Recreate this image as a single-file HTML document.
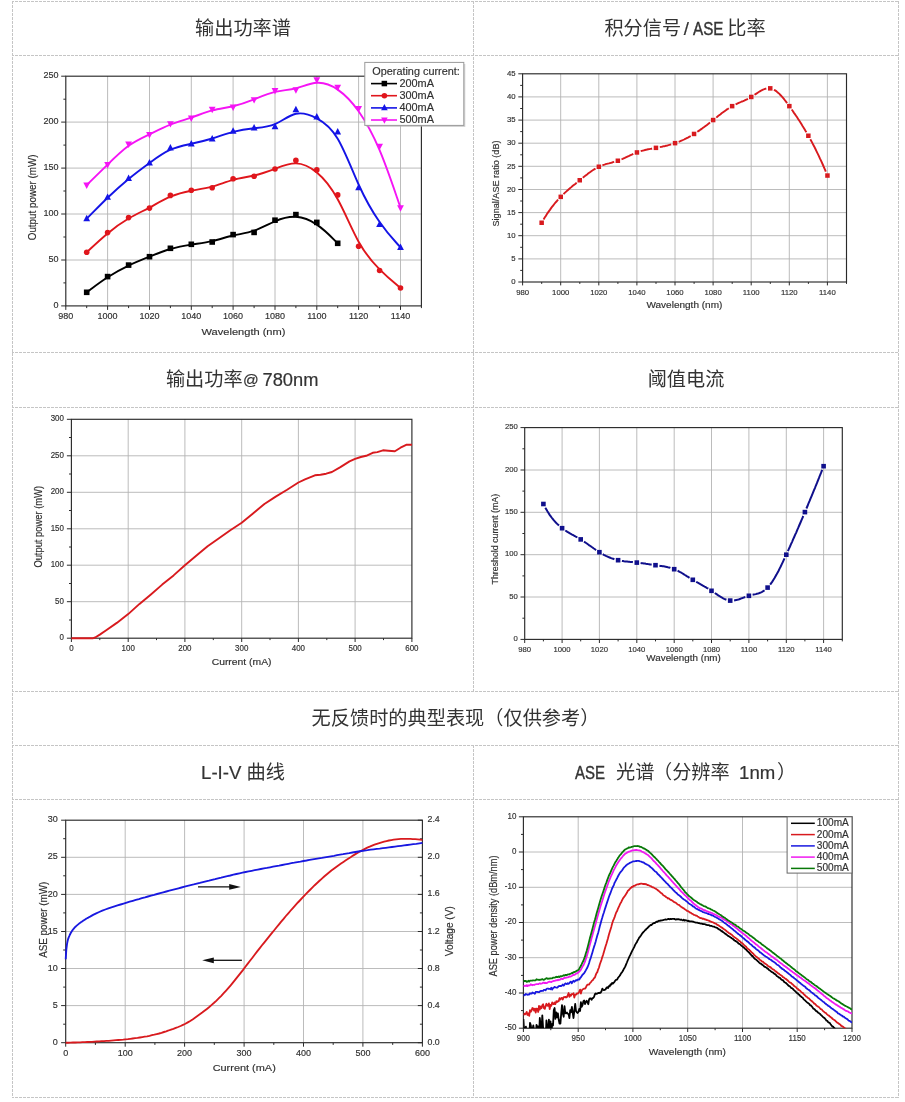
<!DOCTYPE html>
<html lang="zh-CN"><head><meta charset="utf-8"><title>charts</title>
<style>
html,body{margin:0;padding:0;background:#fff}
#pg{position:relative;width:905px;height:1102px;overflow:hidden;background:#fff;font-family:"Liberation Sans","Noto Sans CJK SC",sans-serif;color:#333}
.h{position:absolute;height:1px;left:12px;width:887px;background:linear-gradient(90deg,#c5c5c5 75%,transparent 75%) 3px 0/4px 1px repeat-x}
.v{position:absolute;width:1px;background:linear-gradient(180deg,#c5c5c5 75%,transparent 75%) 0 0/1px 4px repeat-y}
.t{position:absolute;text-align:center;font-size:19.2px;line-height:54px;height:54px;white-space:pre;color:#333}
.t i{font-style:normal;font-size:18.6px;-webkit-text-stroke:.2px #333}
.s{position:absolute;line-height:54px;height:54px;white-space:pre;color:#333;transform-origin:0 50%}
svg{position:absolute;left:0;top:0;filter:blur(.35px)}
svg text{font-family:"Liberation Sans",sans-serif;fill:#303030;stroke:#303030;stroke-width:.16px}
</style></head><body><div id="pg">
<div class="h" style="top:1px"></div>
<div class="h" style="top:55px"></div>
<div class="h" style="top:352px"></div>
<div class="h" style="top:407px"></div>
<div class="h" style="top:691px"></div>
<div class="h" style="top:745px"></div>
<div class="h" style="top:799px"></div>
<div class="h" style="top:1097px"></div>
<div class="v" style="left:12px;top:1px;height:1097px"></div>
<div class="v" style="left:898px;top:1px;height:1097px"></div>
<div class="v" style="left:473px;top:1px;height:690px"></div>
<div class="v" style="left:473px;top:745px;height:353px"></div>
<div class="t" style="left:13px;width:460px;top:2px">输出功率谱</div>
<div class="s" style="left:604.4px;top:2px;font-size:19.2px">积分信号</div>
<div class="s" style="left:683.8px;top:2px;font-size:18.6px;-webkit-text-stroke:.2px #333">/</div>
<div class="s" style="left:692.8px;top:2px;font-size:18.6px;transform:scaleX(0.817);-webkit-text-stroke:.4px #333">ASE</div>
<div class="s" style="left:727.3px;top:2px;font-size:19.2px">比率</div>
<div class="s" style="left:165.9px;top:353px;font-size:19.2px">输出功率</div>
<div class="s" style="left:243px;top:353px;font-size:15.5px;-webkit-text-stroke:.2px #333">@</div>
<div class="s" style="left:262.5px;top:353px;font-size:18.3px;-webkit-text-stroke:.2px #333">780nm</div>
<div class="t" style="left:474px;width:424px;top:353px">阈值电流</div>
<div class="t" style="left:13px;width:885px;top:692px">无反馈时的典型表现（仅供参考）</div>
<div class="t" style="left:13px;width:460px;top:746px"><i>L-I-V </i>曲线</div>
<div class="s" style="left:575.2px;top:746px;font-size:18.6px;transform:scaleX(0.806);-webkit-text-stroke:.4px #333">ASE</div>
<div class="s" style="left:616px;top:746px;font-size:19.2px">光谱</div>
<div class="s" style="left:653px;top:746px;font-size:19.2px">（分辨率</div>
<div class="s" style="left:739.1px;top:746px;font-size:18.6px;-webkit-text-stroke:.2px #333">1nm</div>
<div class="s" style="left:777px;top:746px;font-size:19.2px">）</div>
<svg width="905" height="1102" viewBox="0 0 905 1102">
<path d="M107.6 76.2V305.9M149.5 76.2V305.9M191.3 76.2V305.9M233.1 76.2V305.9M275 76.2V305.9M316.8 76.2V305.9M358.6 76.2V305.9M400.5 76.2V305.9M65.8 260H421.4M65.8 214H421.4M65.8 168.1H421.4M65.8 122.1H421.4" stroke="#b4b4b4" stroke-width="0.9" fill="none"/>
<rect x="65.8" y="76.2" width="355.6" height="229.7" fill="none" stroke="#2a2a2a" stroke-width="1.15"/>
<path d="M65.8 305.9v4M107.6 305.9v4M149.5 305.9v4M191.3 305.9v4M233.1 305.9v4M275 305.9v4M316.8 305.9v4M358.6 305.9v4M400.5 305.9v4M86.7 305.9v2.2M128.6 305.9v2.2M170.4 305.9v2.2M212.2 305.9v2.2M254.1 305.9v2.2M295.9 305.9v2.2M337.7 305.9v2.2M379.6 305.9v2.2M421.4 305.9v2.2M65.8 305.9h-4.6M65.8 260h-4.6M65.8 214h-4.6M65.8 168.1h-4.6M65.8 122.1h-4.6M65.8 76.2h-4.6M65.8 282.9h-2.4M65.8 237h-2.4M65.8 191h-2.4M65.8 145.1h-2.4M65.8 99.2h-2.4" stroke="#2a2a2a" stroke-width="1" fill="none"/>
<text transform="translate(65.8 319.1)" font-size="9.0" text-anchor="middle">980</text>
<text transform="translate(107.6 319.1)" font-size="9.0" text-anchor="middle">1000</text>
<text transform="translate(149.5 319.1)" font-size="9.0" text-anchor="middle">1020</text>
<text transform="translate(191.3 319.1)" font-size="9.0" text-anchor="middle">1040</text>
<text transform="translate(233.1 319.1)" font-size="9.0" text-anchor="middle">1060</text>
<text transform="translate(275 319.1)" font-size="9.0" text-anchor="middle">1080</text>
<text transform="translate(316.8 319.1)" font-size="9.0" text-anchor="middle">1100</text>
<text transform="translate(358.6 319.1)" font-size="9.0" text-anchor="middle">1120</text>
<text transform="translate(400.5 319.1)" font-size="9.0" text-anchor="middle">1140</text>
<text transform="translate(58.6 307.8)" font-size="9.0" text-anchor="end">0</text>
<text transform="translate(58.6 261.9)" font-size="9.0" text-anchor="end">50</text>
<text transform="translate(58.6 216)" font-size="9.0" text-anchor="end">100</text>
<text transform="translate(58.6 170)" font-size="9.0" text-anchor="end">150</text>
<text transform="translate(58.6 124.1)" font-size="9.0" text-anchor="end">200</text>
<text transform="translate(58.6 78.1)" font-size="9.0" text-anchor="end">250</text>
<text transform="translate(243.5 334.5) scale(1.119 1)" font-size="9.9" text-anchor="middle">Wavelength (nm)</text>
<text transform="translate(35.8 197.4) rotate(-90) scale(0.993 1.06)" font-size="9.9" text-anchor="middle">Output power (mW)</text>
<path d="M86.7 292.3 C86.7 292.3 86.7 292.3 90.2 289.7 C93.7 287.1 100.7 281.8 107.6 277.3 C114.6 272.8 121.6 268.9 128.6 265.6 C135.5 262.3 142.5 259.5 149.5 256.7 C156.4 253.9 163.4 251.1 170.4 249 C177.4 247 184.3 245.7 191.3 244.6 C198.3 243.5 205.3 242.7 212.2 241.1 C219.2 239.5 226.2 237.1 233.1 235.5 C240.1 233.9 247.1 233.1 254.1 230.7 C261 228.3 268 224.2 275 221.3 C281.9 218.3 288.9 216.4 295.9 216.8 C302.9 217.2 309.8 219.8 316.8 224.6 C323.8 229.4 330.8 236.3 334.2 239.8 C337.7 243.3 337.7 243.3 337.7 243.3" stroke="#000000" stroke-width="1.9" fill="none" stroke-linejoin="round"/>
<rect x="83.9" y="289.5" width="5.6" height="5.6" fill="#000000"/><rect x="104.8" y="273.8" width="5.6" height="5.6" fill="#000000"/><rect x="125.8" y="262.3" width="5.6" height="5.6" fill="#000000"/><rect x="146.7" y="253.9" width="5.6" height="5.6" fill="#000000"/><rect x="167.6" y="245.5" width="5.6" height="5.6" fill="#000000"/><rect x="188.5" y="241.5" width="5.6" height="5.6" fill="#000000"/><rect x="209.4" y="239.2" width="5.6" height="5.6" fill="#000000"/><rect x="230.3" y="231.8" width="5.6" height="5.6" fill="#000000"/><rect x="251.3" y="229.6" width="5.6" height="5.6" fill="#000000"/><rect x="272.2" y="217.4" width="5.6" height="5.6" fill="#000000"/><rect x="293.1" y="211.8" width="5.6" height="5.6" fill="#000000"/><rect x="314" y="219.6" width="5.6" height="5.6" fill="#000000"/><rect x="334.9" y="240.5" width="5.6" height="5.6" fill="#000000"/>
<path d="M86.7 252.2 C86.7 252.2 86.7 252.2 90.2 249 C93.7 245.7 100.7 239.1 107.6 233.4 C114.6 227.6 121.6 222.6 128.6 218.5 C135.5 214.4 142.5 211.3 149.5 207.6 C156.4 203.9 163.4 199.6 170.4 196.7 C177.4 193.7 184.3 192 191.3 190.7 C198.3 189.5 205.3 188.6 212.2 186.7 C219.2 184.7 226.2 181.7 233.1 179.8 C240.1 177.9 247.1 177.1 254.1 175.5 C261 173.9 268 171.4 275 168.8 C281.9 166.1 288.9 163.2 295.9 163.4 C302.9 163.5 309.8 166.7 316.8 172.5 C323.8 178.2 330.8 186.6 337.7 199.3 C344.7 212 351.7 229.1 358.6 241.7 C365.6 254.3 372.6 262.4 379.6 269.4 C386.5 276.3 393.5 282.2 397 285.1 C400.5 288 400.5 288 400.5 288" stroke="#e0161c" stroke-width="1.9" fill="none" stroke-linejoin="round"/>
<circle cx="86.7" cy="252.2" r="2.8" fill="#e0161c"/><circle cx="107.6" cy="232.6" r="2.8" fill="#e0161c"/><circle cx="128.6" cy="217.6" r="2.8" fill="#e0161c"/><circle cx="149.5" cy="208.1" r="2.8" fill="#e0161c"/><circle cx="170.4" cy="195.4" r="2.8" fill="#e0161c"/><circle cx="191.3" cy="190.3" r="2.8" fill="#e0161c"/><circle cx="212.2" cy="187.7" r="2.8" fill="#e0161c"/><circle cx="233.1" cy="178.7" r="2.8" fill="#e0161c"/><circle cx="254.1" cy="176.3" r="2.8" fill="#e0161c"/><circle cx="275" cy="169" r="2.8" fill="#e0161c"/><circle cx="295.9" cy="160.4" r="2.8" fill="#e0161c"/><circle cx="316.8" cy="169.9" r="2.8" fill="#e0161c"/><circle cx="337.7" cy="194.9" r="2.8" fill="#e0161c"/><circle cx="358.6" cy="246.2" r="2.8" fill="#e0161c"/><circle cx="379.6" cy="270.5" r="2.8" fill="#e0161c"/><circle cx="400.5" cy="288" r="2.8" fill="#e0161c"/>
<path d="M86.7 218.7 C86.7 218.7 86.7 218.7 90.2 215.1 C93.7 211.6 100.7 204.4 107.6 197.7 C114.6 191 121.6 184.7 128.6 178.9 C135.5 173.2 142.5 168 149.5 162.9 C156.4 157.9 163.4 152.9 170.4 149.7 C177.4 146.6 184.3 145.3 191.3 143.8 C198.3 142.3 205.3 140.6 212.2 138.5 C219.2 136.4 226.2 133.7 233.1 131.9 C240.1 130 247.1 128.9 254.1 128.2 C261 127.5 268 127.1 275 124.1 C281.9 121.1 288.9 115.4 295.9 113.8 C302.9 112.2 309.8 114.6 316.8 118.3 C323.8 122 330.8 126.9 337.7 138.7 C344.7 150.5 351.7 169.1 358.6 184.5 C365.6 199.9 372.6 212.1 379.6 222 C386.5 232 393.5 239.7 397 243.5 C400.5 247.4 400.5 247.4 400.5 247.4" stroke="#1414e6" stroke-width="1.9" fill="none" stroke-linejoin="round"/>
<path d="M86.7 214.8L90.1 221.3L83.3 221.3Z" fill="#1414e6"/><path d="M107.6 193.4L111 199.8L104.2 199.8Z" fill="#1414e6"/><path d="M128.6 174.5L132 180.9L125.2 180.9Z" fill="#1414e6"/><path d="M149.5 158.9L152.9 165.4L146.1 165.4Z" fill="#1414e6"/><path d="M170.4 144L173.8 150.4L167 150.4Z" fill="#1414e6"/><path d="M191.3 140.1L194.7 146.6L187.9 146.6Z" fill="#1414e6"/><path d="M212.2 135L215.6 141.5L208.8 141.5Z" fill="#1414e6"/><path d="M233.1 127.2L236.5 133.7L229.7 133.7Z" fill="#1414e6"/><path d="M254.1 123.9L257.5 130.4L250.7 130.4Z" fill="#1414e6"/><path d="M275 122.8L278.4 129.3L271.6 129.3Z" fill="#1414e6"/><path d="M295.9 105.8L299.3 112.3L292.5 112.3Z" fill="#1414e6"/><path d="M316.8 113.1L320.2 119.5L313.4 119.5Z" fill="#1414e6"/><path d="M337.7 128L341.1 134.4L334.3 134.4Z" fill="#1414e6"/><path d="M358.6 183.7L362 190.2L355.2 190.2Z" fill="#1414e6"/><path d="M379.6 220.4L383 226.9L376.2 226.9Z" fill="#1414e6"/><path d="M400.5 243.5L403.9 249.9L397.1 249.9Z" fill="#1414e6"/>
<path d="M86.7 185 C86.7 185 86.7 185 90.2 181.6 C93.7 178.2 100.7 171.4 107.6 164.6 C114.6 157.7 121.6 150.9 128.6 145.8 C135.5 140.8 142.5 137.6 149.5 134.3 C156.4 130.9 163.4 127.3 170.4 124.6 C177.4 121.8 184.3 120 191.3 117.6 C198.3 115.2 205.3 112.2 212.2 110.4 C219.2 108.5 226.2 107.8 233.1 106.2 C240.1 104.6 247.1 102.2 254.1 99.4 C261 96.6 268 93.5 275 91.9 C281.9 90.2 288.9 90 295.9 88.3 C302.9 86.5 309.8 83.2 316.8 82.8 C323.8 82.3 330.8 84.8 337.7 89.6 C344.7 94.4 351.7 101.5 358.6 111.3 C365.6 121.2 372.6 133.7 379.6 150.2 C386.5 166.7 393.5 187.3 397 197.5 C400.5 207.8 400.5 207.8 400.5 207.8" stroke="#f514f5" stroke-width="1.9" fill="none" stroke-linejoin="round"/>
<path d="M86.7 188.9L90.1 182.4L83.3 182.4Z" fill="#f514f5"/><path d="M107.6 168.5L111 162L104.2 162Z" fill="#f514f5"/><path d="M128.6 147.9L132 141.5L125.2 141.5Z" fill="#f514f5"/><path d="M149.5 138.4L152.9 131.9L146.1 131.9Z" fill="#f514f5"/><path d="M170.4 127.6L173.8 121.2L167 121.2Z" fill="#f514f5"/><path d="M191.3 122L194.7 115.5L187.9 115.5Z" fill="#f514f5"/><path d="M212.2 113.2L215.6 106.7L208.8 106.7Z" fill="#f514f5"/><path d="M233.1 111L236.5 104.5L229.7 104.5Z" fill="#f514f5"/><path d="M254.1 103.6L257.5 97.2L250.7 97.2Z" fill="#f514f5"/><path d="M275 94.4L278.4 87.9L271.6 87.9Z" fill="#f514f5"/><path d="M295.9 93.7L299.3 87.2L292.5 87.2Z" fill="#f514f5"/><path d="M316.8 83.8L320.2 77.3L313.4 77.3Z" fill="#f514f5"/><path d="M337.7 91.1L341.1 84.7L334.3 84.7Z" fill="#f514f5"/><path d="M358.6 112.5L362 106.1L355.2 106.1Z" fill="#f514f5"/><path d="M379.6 150.1L383 143.7L376.2 143.7Z" fill="#f514f5"/><path d="M400.5 211.7L403.9 205.2L397.1 205.2Z" fill="#f514f5"/>
<rect x="366.3" y="64" width="99" height="63" fill="#b0b0b0" opacity=".55"/>
<rect x="364.8" y="62.4" width="99" height="63" fill="#fff" stroke="#9a9a9a" stroke-width="1"/>
<text x="372.2" y="74.6" font-size="10.9" textLength="87.7" lengthAdjust="spacingAndGlyphs">Operating current:</text>
<path d="M371 83.6H397" stroke="#000000" stroke-width="1.6"/>
<rect x="381.6" y="80.8" width="5.5" height="5.5" fill="#000000"/>
<text x="399.4" y="86.9" font-size="10.9">200mA</text>
<path d="M371 95.7H397" stroke="#e0161c" stroke-width="1.6"/>
<circle cx="384.4" cy="95.7" r="2.8" fill="#e0161c"/>
<text x="399.4" y="99" font-size="10.9">300mA</text>
<path d="M371 107.9H397" stroke="#1414e6" stroke-width="1.6"/>
<path d="M384.4 104.1L387.7 110.3L381.1 110.3Z" fill="#1414e6"/>
<text x="399.4" y="111.2" font-size="10.9">400mA</text>
<path d="M371 120H397" stroke="#f514f5" stroke-width="1.6"/>
<path d="M384.4 123.8L387.7 117.5L381.1 117.5Z" fill="#f514f5"/>
<text x="399.4" y="123.3" font-size="10.9">500mA</text>
<path d="M560.7 73.8V282M598.8 73.8V282M636.9 73.8V282M675 73.8V282M713.1 73.8V282M751.2 73.8V282M789.3 73.8V282M827.4 73.8V282M522.6 258.9H846.5M522.6 235.7H846.5M522.6 212.6H846.5M522.6 189.5H846.5M522.6 166.3H846.5M522.6 143.2H846.5M522.6 120.1H846.5M522.6 96.9H846.5" stroke="#b4b4b4" stroke-width="0.9" fill="none"/>
<rect x="522.6" y="73.8" width="323.9" height="208.2" fill="none" stroke="#2a2a2a" stroke-width="1.15"/>
<path d="M522.6 282v3.4M560.7 282v3.4M598.8 282v3.4M636.9 282v3.4M675 282v3.4M713.1 282v3.4M751.2 282v3.4M789.3 282v3.4M827.4 282v3.4M541.7 282v1.9M579.8 282v1.9M617.9 282v1.9M656 282v1.9M694.1 282v1.9M732.2 282v1.9M770.3 282v1.9M808.4 282v1.9M846.5 282v1.9M522.6 282h-4.3M522.6 258.9h-4.3M522.6 235.7h-4.3M522.6 212.6h-4.3M522.6 189.5h-4.3M522.6 166.3h-4.3M522.6 143.2h-4.3M522.6 120.1h-4.3M522.6 96.9h-4.3M522.6 73.8h-4.3M522.6 270.4h-2.4M522.6 247.3h-2.4M522.6 224.2h-2.4M522.6 201h-2.4M522.6 177.9h-2.4M522.6 154.8h-2.4M522.6 131.6h-2.4M522.6 108.5h-2.4M522.6 85.4h-2.4" stroke="#2a2a2a" stroke-width="1" fill="none"/>
<text transform="translate(522.6 294.8) scale(0.96 1)" font-size="8.1" text-anchor="middle">980</text>
<text transform="translate(560.7 294.8) scale(0.96 1)" font-size="8.1" text-anchor="middle">1000</text>
<text transform="translate(598.8 294.8) scale(0.96 1)" font-size="8.1" text-anchor="middle">1020</text>
<text transform="translate(636.9 294.8) scale(0.96 1)" font-size="8.1" text-anchor="middle">1040</text>
<text transform="translate(675 294.8) scale(0.96 1)" font-size="8.1" text-anchor="middle">1060</text>
<text transform="translate(713.1 294.8) scale(0.96 1)" font-size="8.1" text-anchor="middle">1080</text>
<text transform="translate(751.2 294.8) scale(0.96 1)" font-size="8.1" text-anchor="middle">1100</text>
<text transform="translate(789.3 294.8) scale(0.96 1)" font-size="8.1" text-anchor="middle">1120</text>
<text transform="translate(827.4 294.8) scale(0.96 1)" font-size="8.1" text-anchor="middle">1140</text>
<text transform="translate(515.6 284.2) scale(0.96 1)" font-size="8.1" text-anchor="end">0</text>
<text transform="translate(515.6 261.1) scale(0.96 1)" font-size="8.1" text-anchor="end">5</text>
<text transform="translate(515.6 237.9) scale(0.96 1)" font-size="8.1" text-anchor="end">10</text>
<text transform="translate(515.6 214.8) scale(0.96 1)" font-size="8.1" text-anchor="end">15</text>
<text transform="translate(515.6 191.7) scale(0.96 1)" font-size="8.1" text-anchor="end">20</text>
<text transform="translate(515.6 168.5) scale(0.96 1)" font-size="8.1" text-anchor="end">25</text>
<text transform="translate(515.6 145.4) scale(0.96 1)" font-size="8.1" text-anchor="end">30</text>
<text transform="translate(515.6 122.3) scale(0.96 1)" font-size="8.1" text-anchor="end">35</text>
<text transform="translate(515.6 99.1) scale(0.96 1)" font-size="8.1" text-anchor="end">40</text>
<text transform="translate(515.6 76) scale(0.96 1)" font-size="8.1" text-anchor="end">45</text>
<text transform="translate(684.4 308.2) scale(1.153 1)" font-size="8.7" text-anchor="middle">Wavelength (nm)</text>
<text transform="translate(499.4 183.5) rotate(-90) scale(1 1.08)" font-size="9.1" text-anchor="middle">Signal/ASE ratio (dB)</text>
<path d="M543.6 219.4 L544.7 217.6 L545.8 215.9 L546.8 214.2 L547.9 212.6 L549 211.1 L550.1 209.6 L551.1 208.1 L552.2 206.7 L553.3 205.3 L554.3 204 L555.4 202.7 L556.5 201.5 L557.6 200.2 L558.1 199.6M563.5 194.1 L564.5 193.1 L565.6 192.1 L566.7 191.1 L567.7 190.2 L568.8 189.2 L569.9 188.3 L571 187.4 L572 186.5 L573.1 185.6 L574.2 184.7 L575.3 183.9 L576.3 183 L576.7 182.7M582.8 177.8 L583.8 176.9 L584.9 176.1 L586 175.2 L587.1 174.4 L588.1 173.6 L589.2 172.8 L590.3 172 L591.3 171.2 L592.4 170.5 L593.5 169.8 L594.6 169.1 L595.5 168.6M602.4 165.3 L603.5 164.9 L604.6 164.6 L605.6 164.2 L606.7 163.9 L607.8 163.6 L608.9 163.4 L609.9 163.1 L611 162.8 L612.1 162.5 L613.1 162.2 L614.2 161.9 L614.2 161.9M621.5 159.3 L622.6 158.9 L623.7 158.4 L624.8 157.9 L625.8 157.4 L626.9 156.9 L628 156.4 L629.1 155.9 L630.1 155.4 L631.2 154.9 L632.3 154.4 L633.3 153.9 L633.3 153.9M640.7 151.2 L641.7 150.9 L642.8 150.6 L643.9 150.3 L645 150 L646 149.8 L647.1 149.5 L648.2 149.3 L649.3 149.1 L650.3 148.9 L651.4 148.7 L652.1 148.5M659.8 147.1 L660.9 146.9 L661.9 146.7 L663 146.4 L664.1 146.2 L665.2 146 L666.2 145.7 L667.3 145.5 L668.4 145.2 L669.4 144.9 L670.5 144.6 L671.2 144.4M678.7 141.8 L679.8 141.4 L680.9 140.9 L682 140.5 L683 140 L684.1 139.5 L685.2 138.9 L686.2 138.4 L687.3 137.8 L688.4 137.3 L689.5 136.7 L690.5 136.1 L690.7 136M697.3 131.8 L698.4 131.1 L699.5 130.4 L700.5 129.6 L701.6 128.9 L702.7 128.1 L703.8 127.3 L704.8 126.5 L705.9 125.7 L707 124.9 L708.1 124.1 L709.1 123.2 L710 122.5M716.3 117.6 L717.3 116.7 L718.4 115.8 L719.5 115 L720.6 114.2 L721.6 113.3 L722.7 112.5 L723.8 111.7 L724.9 110.9 L725.9 110.2 L727 109.4 L728.1 108.7 L728.8 108.2M735.6 104.4 L736.7 103.9 L737.7 103.4 L738.8 102.9 L739.9 102.5 L740.9 102 L742 101.5 L743.1 101.1 L744.2 100.6 L745.2 100.1 L746.3 99.6 L747.4 99.1 L747.9 98.8M754.5 94.8 L755.6 94.1 L756.7 93.4 L757.7 92.7 L758.8 92 L759.9 91.3 L761 90.7 L762 90.1 L763.1 89.6 L764.2 89.2 L765.2 88.8 L766.3 88.5 L766.3 88.5M774 89.7 L775.1 90.4 L776.2 91.1 L777.2 92 L778.3 92.9 L779.4 93.9 L780.4 95 L781.5 96.2 L782.6 97.4 L783.7 98.7 L784.7 100 L785.8 101.4 L786.9 102.8 L787.1 103.1M791.7 109.5 L792.8 111 L793.8 112.6 L794.9 114.1 L796 115.7 L797.1 117.3 L798.1 118.9 L799.2 120.6 L800.3 122.3 L801.4 124 L802.4 125.7 L803.5 127.4 L804.6 129.2 L805.6 131 L806.4 132.2M810.3 139.2 L811.4 141.2 L812.4 143.2 L813.5 145.3 L814.6 147.3 L815.7 149.5 L816.7 151.6 L817.8 153.8 L818.9 156.1 L819.9 158.4 L821 160.7 L822.1 163 L823.2 165.5 L824.2 167.9 L825.3 170.4 L825.8 171.7" stroke="#d81a1e" stroke-width="1.9" fill="none" stroke-linecap="butt"/>
<rect x="539.4" y="220.5" width="4.5" height="4.5" fill="#d81a1e"/><rect x="558.5" y="194.6" width="4.5" height="4.5" fill="#d81a1e"/><rect x="577.5" y="178" width="4.5" height="4.5" fill="#d81a1e"/><rect x="596.6" y="164.5" width="4.5" height="4.5" fill="#d81a1e"/><rect x="615.6" y="158.5" width="4.5" height="4.5" fill="#d81a1e"/><rect x="634.7" y="150.2" width="4.5" height="4.5" fill="#d81a1e"/><rect x="653.7" y="145.6" width="4.5" height="4.5" fill="#d81a1e"/><rect x="672.8" y="140.9" width="4.5" height="4.5" fill="#d81a1e"/><rect x="691.8" y="131.7" width="4.5" height="4.5" fill="#d81a1e"/><rect x="710.9" y="117.8" width="4.5" height="4.5" fill="#d81a1e"/><rect x="729.9" y="103.9" width="4.5" height="4.5" fill="#d81a1e"/><rect x="749" y="94.7" width="4.5" height="4.5" fill="#d81a1e"/><rect x="768" y="86.1" width="4.5" height="4.5" fill="#d81a1e"/><rect x="787.1" y="103.9" width="4.5" height="4.5" fill="#d81a1e"/><rect x="806.1" y="133.5" width="4.5" height="4.5" fill="#d81a1e"/><rect x="825.2" y="173.3" width="4.5" height="4.5" fill="#d81a1e"/>
<path d="M128.2 419.3V638.2M184.9 419.3V638.2M241.7 419.3V638.2M298.4 419.3V638.2M355.1 419.3V638.2M71.4 601.7H411.9M71.4 565.2H411.9M71.4 528.8H411.9M71.4 492.3H411.9M71.4 455.8H411.9" stroke="#b4b4b4" stroke-width="0.9" fill="none"/>
<rect x="71.4" y="419.3" width="340.5" height="218.9" fill="none" stroke="#2a2a2a" stroke-width="1.15"/>
<path d="M71.4 638.2v3.8M128.2 638.2v3.8M184.9 638.2v3.8M241.7 638.2v3.8M298.4 638.2v3.8M355.1 638.2v3.8M411.9 638.2v3.8M99.8 638.2v1.9M156.5 638.2v1.9M213.3 638.2v1.9M270 638.2v1.9M326.8 638.2v1.9M383.5 638.2v1.9M71.4 638.2h-4.5M71.4 601.7h-4.5M71.4 565.2h-4.5M71.4 528.8h-4.5M71.4 492.3h-4.5M71.4 455.8h-4.5M71.4 419.3h-4.5M71.4 620h-2.4M71.4 583.5h-2.4M71.4 547h-2.4M71.4 510.5h-2.4M71.4 474h-2.4M71.4 437.5h-2.4" stroke="#2a2a2a" stroke-width="1" fill="none"/>
<text transform="translate(71.4 650.9) scale(0.97 1)" font-size="8.2" text-anchor="middle">0</text>
<text transform="translate(128.2 650.9) scale(0.97 1)" font-size="8.2" text-anchor="middle">100</text>
<text transform="translate(184.9 650.9) scale(0.97 1)" font-size="8.2" text-anchor="middle">200</text>
<text transform="translate(241.7 650.9) scale(0.97 1)" font-size="8.2" text-anchor="middle">300</text>
<text transform="translate(298.4 650.9) scale(0.97 1)" font-size="8.2" text-anchor="middle">400</text>
<text transform="translate(355.1 650.9) scale(0.97 1)" font-size="8.2" text-anchor="middle">500</text>
<text transform="translate(411.9 650.9) scale(0.97 1)" font-size="8.2" text-anchor="middle">600</text>
<text transform="translate(63.9 640.2) scale(0.97 1)" font-size="8.2" text-anchor="end">0</text>
<text transform="translate(63.9 603.7) scale(0.97 1)" font-size="8.2" text-anchor="end">50</text>
<text transform="translate(63.9 567.2) scale(0.97 1)" font-size="8.2" text-anchor="end">100</text>
<text transform="translate(63.9 530.7) scale(0.97 1)" font-size="8.2" text-anchor="end">150</text>
<text transform="translate(63.9 494.2) scale(0.97 1)" font-size="8.2" text-anchor="end">200</text>
<text transform="translate(63.9 457.7) scale(0.97 1)" font-size="8.2" text-anchor="end">250</text>
<text transform="translate(63.9 421.3) scale(0.97 1)" font-size="8.2" text-anchor="end">300</text>
<text transform="translate(241.6 665.3) scale(1.154 1)" font-size="9.0" text-anchor="middle">Current (mA)</text>
<text transform="translate(42.3 526.8) rotate(-90) scale(1.007 1.08)" font-size="9.3" text-anchor="middle">Output power (mW)</text>
<path d="M71.4 638.2 L93.2 638.2 L95.2 637.5 L99.8 634.6 L105.5 630.7 L116.8 622.9 L128.2 614.1 L139.5 603.9 L150.9 594.4 L162.2 584.6 L173.6 575.4 L184.9 565.2 L196.2 555.7 L207.6 546.3 L219 538.2 L230.3 530.2 L241.7 522.8 L253 513.4 L264.4 504 L275.7 496.6 L287.1 489.7 L298.4 482.5 L305 479.4 L314.9 475.3 L320.5 474.8 L326.2 473.7 L331.9 472 L340.4 467.1 L349.5 461.4 L355.1 458.9 L360.8 457 L366.2 455.8 L372.7 452.8 L377.3 452.1 L383 450.3 L388.3 450.7 L394.9 451.2 L400.5 447.7 L406.2 444.8 L411.9 444.8" stroke="#d81a1e" stroke-width="1.9" fill="none" stroke-linejoin="round"/>
<path d="M562.1 427.6V639.4M599.4 427.6V639.4M636.8 427.6V639.4M674.2 427.6V639.4M711.5 427.6V639.4M748.9 427.6V639.4M786.3 427.6V639.4M823.6 427.6V639.4M524.7 597H842.3M524.7 554.7H842.3M524.7 512.3H842.3M524.7 470H842.3" stroke="#b4b4b4" stroke-width="0.9" fill="none"/>
<rect x="524.7" y="427.6" width="317.6" height="211.8" fill="none" stroke="#2a2a2a" stroke-width="1.15"/>
<path d="M524.7 639.4v3.6M562.1 639.4v3.6M599.4 639.4v3.6M636.8 639.4v3.6M674.2 639.4v3.6M711.5 639.4v3.6M748.9 639.4v3.6M786.3 639.4v3.6M823.6 639.4v3.6M543.4 639.4v2M580.7 639.4v2M618.1 639.4v2M655.5 639.4v2M692.8 639.4v2M730.2 639.4v2M767.6 639.4v2M804.9 639.4v2M842.3 639.4v2M524.7 639.4h-4.2M524.7 597h-4.2M524.7 554.7h-4.2M524.7 512.3h-4.2M524.7 470h-4.2M524.7 427.6h-4.2M524.7 618.2h-2.3M524.7 575.9h-2.3M524.7 533.5h-2.3M524.7 491.1h-2.3M524.7 448.8h-2.3" stroke="#2a2a2a" stroke-width="1" fill="none"/>
<text transform="translate(524.7 651.7) scale(0.95 1)" font-size="8.1" text-anchor="middle">980</text>
<text transform="translate(562.1 651.7) scale(0.95 1)" font-size="8.1" text-anchor="middle">1000</text>
<text transform="translate(599.4 651.7) scale(0.95 1)" font-size="8.1" text-anchor="middle">1020</text>
<text transform="translate(636.8 651.7) scale(0.95 1)" font-size="8.1" text-anchor="middle">1040</text>
<text transform="translate(674.2 651.7) scale(0.95 1)" font-size="8.1" text-anchor="middle">1060</text>
<text transform="translate(711.5 651.7) scale(0.95 1)" font-size="8.1" text-anchor="middle">1080</text>
<text transform="translate(748.9 651.7) scale(0.95 1)" font-size="8.1" text-anchor="middle">1100</text>
<text transform="translate(786.3 651.7) scale(0.95 1)" font-size="8.1" text-anchor="middle">1120</text>
<text transform="translate(823.6 651.7) scale(0.95 1)" font-size="8.1" text-anchor="middle">1140</text>
<text transform="translate(517.9 641.1) scale(0.95 1)" font-size="8.1" text-anchor="end">0</text>
<text transform="translate(517.9 598.8) scale(0.95 1)" font-size="8.1" text-anchor="end">50</text>
<text transform="translate(517.9 556.4) scale(0.95 1)" font-size="8.1" text-anchor="end">100</text>
<text transform="translate(517.9 514) scale(0.95 1)" font-size="8.1" text-anchor="end">150</text>
<text transform="translate(517.9 471.7) scale(0.95 1)" font-size="8.1" text-anchor="end">200</text>
<text transform="translate(517.9 429.3) scale(0.95 1)" font-size="8.1" text-anchor="end">250</text>
<text transform="translate(683.6 661) scale(1.157 1)" font-size="8.5" text-anchor="middle">Wavelength (nm)</text>
<text transform="translate(498.3 539.2) rotate(-90) scale(0.99 1.08)" font-size="8.9" text-anchor="middle">Threshold current (mA)</text>
<path d="M545.3 507.7 L546.4 509.6 L547.4 511.3 L548.5 513 L549.5 514.6 L550.6 516.1 L551.6 517.5 L552.7 518.9 L553.7 520.2 L554.8 521.4 L555.8 522.5 L556.9 523.6 L557.9 524.6 L559 525.6 L559 525.6M565.3 530.5 L566.3 531.1 L567.4 531.8 L568.4 532.4 L569.5 533.1 L570.5 533.7 L571.6 534.3 L572.7 534.8 L573.7 535.4 L574.8 536 L575.8 536.6 L576.9 537.2 L577.4 537.4M584 541.6 L585.1 542.3 L586.1 543 L587.2 543.8 L588.2 544.5 L589.3 545.3 L590.4 546 L591.4 546.8 L592.5 547.5 L593.5 548.3 L594.6 549 L595.6 549.7 L596.1 550.1M602.8 554.2 L603.8 554.8 L604.9 555.3 L605.9 555.8 L607 556.3 L608.1 556.8 L609.1 557.3 L610.2 557.7 L611.2 558.1 L612.3 558.5 L613.3 558.8 L614.4 559.2 L614.4 559.2M621.9 560.9 L622.9 561.1 L624 561.3 L625.1 561.4 L626.1 561.5 L627.2 561.6 L628.2 561.7 L629.3 561.8 L630.3 561.9 L631.4 562 L632.4 562.1 L632.9 562.2M640.6 563 L641.7 563.2 L642.8 563.3 L643.8 563.5 L644.9 563.6 L645.9 563.8 L647 563.9 L648 564.1 L649.1 564.2 L650.1 564.4 L651.2 564.6 L651.7 564.6M659.4 565.7 L660.5 565.9 L661.5 566 L662.6 566.2 L663.6 566.3 L664.7 566.5 L665.7 566.7 L666.8 566.9 L667.8 567.2 L668.9 567.4 L669.9 567.7 L670.4 567.9M677.6 570.7 L678.7 571.3 L679.7 571.9 L680.8 572.4 L681.8 573 L682.9 573.7 L683.9 574.3 L685 575 L686 575.6 L687.1 576.3 L688.1 576.9 L689.2 577.6 L689.5 577.8M696.2 581.8 L697.3 582.4 L698.3 583 L699.4 583.6 L700.4 584.2 L701.5 584.8 L702.5 585.4 L703.6 586 L704.6 586.6 L705.7 587.2 L706.7 587.8 L707.8 588.4 L708.3 588.7M714.8 593 L715.8 593.7 L716.9 594.4 L717.9 595.1 L719 595.8 L720 596.5 L721.1 597.1 L722.1 597.7 L723.2 598.3 L724.2 598.8 L725.3 599.3 L726.4 599.7 L726.4 599.7M734.1 600.5 L735.1 600.3 L736.2 600.1 L737.2 599.8 L738.3 599.5 L739.3 599.2 L740.4 598.8 L741.4 598.4 L742.5 598 L743.5 597.6 L744.6 597.2 L745.3 597M752.6 594.8 L753.7 594.6 L754.7 594.4 L755.8 594.1 L756.8 593.8 L757.9 593.5 L758.9 593.2 L760 592.8 L761.1 592.3 L762.1 591.8 L763.2 591.2 L764.2 590.5 L764.6 590.3M770.2 584.6 L771.2 583.2 L772.3 581.6 L773.3 580 L774.4 578.3 L775.4 576.5 L776.5 574.6 L777.5 572.7 L778.6 570.7 L779.6 568.6 L780.7 566.5 L781.7 564.4 L782.8 562.1 L783.8 559.9 L784.5 558.4M787.9 551.1 L788.9 548.8 L790 546.5 L791 544.2 L792.1 541.8 L793.1 539.4 L794.2 537 L795.2 534.7 L796.3 532.3 L797.3 529.8 L798.4 527.4 L799.4 525 L800.5 522.5 L801.5 520.1 L802.6 517.6 L803.3 516M806.4 508.5 L807.5 506 L808.5 503.4 L809.6 500.9 L810.6 498.4 L811.7 495.8 L812.8 493.2 L813.8 490.7 L814.9 488.1 L815.9 485.5 L817 482.9 L818 480.3 L819.1 477.7 L820.1 475 L821.2 472.4 L822.2 469.8 L822.2 469.8" stroke="#10108c" stroke-width="2.0" fill="none" stroke-linecap="butt"/>
<rect x="541.1" y="501.7" width="4.6" height="4.6" fill="#10108c"/><rect x="559.8" y="525.9" width="4.6" height="4.6" fill="#10108c"/><rect x="578.4" y="537.1" width="4.6" height="4.6" fill="#10108c"/><rect x="597.1" y="549.9" width="4.6" height="4.6" fill="#10108c"/><rect x="615.8" y="557.9" width="4.6" height="4.6" fill="#10108c"/><rect x="634.5" y="560.3" width="4.6" height="4.6" fill="#10108c"/><rect x="653.2" y="562.9" width="4.6" height="4.6" fill="#10108c"/><rect x="671.9" y="566.9" width="4.6" height="4.6" fill="#10108c"/><rect x="690.5" y="577.5" width="4.6" height="4.6" fill="#10108c"/><rect x="709.2" y="588.5" width="4.6" height="4.6" fill="#10108c"/><rect x="727.9" y="598.3" width="4.6" height="4.6" fill="#10108c"/><rect x="746.6" y="593.5" width="4.6" height="4.6" fill="#10108c"/><rect x="765.3" y="585.3" width="4.6" height="4.6" fill="#10108c"/><rect x="784" y="552.4" width="4.6" height="4.6" fill="#10108c"/><rect x="802.6" y="509.8" width="4.6" height="4.6" fill="#10108c"/><rect x="821.3" y="463.9" width="4.6" height="4.6" fill="#10108c"/>
<path d="M125.2 820.2V1042.7M184.6 820.2V1042.7M244.1 820.2V1042.7M303.5 820.2V1042.7M362.9 820.2V1042.7M65.7 1005.6H422.4M65.7 968.5H422.4M65.7 931.5H422.4M65.7 894.4H422.4M65.7 857.3H422.4" stroke="#b4b4b4" stroke-width="0.9" fill="none"/>
<rect x="65.7" y="820.2" width="356.7" height="222.5" fill="none" stroke="#2a2a2a" stroke-width="1.15"/>
<path d="M65.7 1042.7v4M125.2 1042.7v4M184.6 1042.7v4M244.1 1042.7v4M303.5 1042.7v4M362.9 1042.7v4M422.4 1042.7v4M95.4 1042.7v2.2M154.9 1042.7v2.2M214.3 1042.7v2.2M273.8 1042.7v2.2M333.2 1042.7v2.2M392.7 1042.7v2.2M65.7 1042.7h-4.6M65.7 1005.6h-4.6M65.7 968.5h-4.6M65.7 931.5h-4.6M65.7 894.4h-4.6M65.7 857.3h-4.6M65.7 820.2h-4.6M65.7 1024.2h-2.5M65.7 987.1h-2.5M65.7 950h-2.5M65.7 912.9h-2.5M65.7 875.8h-2.5M65.7 838.7h-2.5" stroke="#2a2a2a" stroke-width="1" fill="none"/>
<text transform="translate(65.7 1056.2)" font-size="9.0" text-anchor="middle">0</text>
<text transform="translate(125.2 1056.2)" font-size="9.0" text-anchor="middle">100</text>
<text transform="translate(184.6 1056.2)" font-size="9.0" text-anchor="middle">200</text>
<text transform="translate(244.1 1056.2)" font-size="9.0" text-anchor="middle">300</text>
<text transform="translate(303.5 1056.2)" font-size="9.0" text-anchor="middle">400</text>
<text transform="translate(362.9 1056.2)" font-size="9.0" text-anchor="middle">500</text>
<text transform="translate(422.4 1056.2)" font-size="9.0" text-anchor="middle">600</text>
<text transform="translate(57.8 1044.8)" font-size="9.0" text-anchor="end">0</text>
<text transform="translate(57.8 1007.8)" font-size="9.0" text-anchor="end">5</text>
<text transform="translate(57.8 970.7)" font-size="9.0" text-anchor="end">10</text>
<text transform="translate(57.8 933.6)" font-size="9.0" text-anchor="end">15</text>
<text transform="translate(57.8 896.5)" font-size="9.0" text-anchor="end">20</text>
<text transform="translate(57.8 859.4)" font-size="9.0" text-anchor="end">25</text>
<text transform="translate(57.8 822.3)" font-size="9.0" text-anchor="end">30</text>
<text x="427.5" y="1044.7" font-size="8.8">0.0</text>
<text x="427.5" y="1007.6" font-size="8.8">0.4</text>
<text x="427.5" y="970.5" font-size="8.8">0.8</text>
<text x="427.5" y="933.5" font-size="8.8">1.2</text>
<text x="427.5" y="896.4" font-size="8.8">1.6</text>
<text x="427.5" y="859.3" font-size="8.8">2.0</text>
<text x="427.5" y="822.2" font-size="8.8">2.4</text>
<path d="M422.4 1042.7h-4.6M422.4 1024.2h-2.5M422.4 1005.6h-4.6M422.4 987.1h-2.5M422.4 968.5h-4.6M422.4 950h-2.5M422.4 931.5h-4.6M422.4 912.9h-2.5M422.4 894.4h-4.6M422.4 875.8h-2.5M422.4 857.3h-4.6M422.4 838.8h-2.5M422.4 820.2h-4.6" stroke="#2a2a2a" stroke-width="1" fill="none"/>
<text transform="translate(244.2 1071.4) scale(1.116 1)" font-size="9.8" text-anchor="middle">Current (mA)</text>
<text transform="translate(46.9 919.8) rotate(-90) scale(1.007 1.12)" font-size="9.8" text-anchor="middle">ASE power (mW)</text>
<text transform="translate(453 931.2) rotate(-90) scale(1.031 1.12)" font-size="9.8" text-anchor="middle">Voltage (V)</text>
<path d="M65.7 1042.7 L68.1 1042.7 L70.5 1042.6 L72.9 1042.5 L75.3 1042.5 L77.7 1042.4 L80.1 1042.3 L82.5 1042.2 L84.9 1042.1 L87.2 1042 L89.6 1041.9 L92 1041.8 L94.4 1041.6 L96.8 1041.5 L99.2 1041.4 L101.6 1041.2 L104 1041.1 L106.4 1040.9 L108.8 1040.8 L111.2 1040.6 L113.6 1040.4 L116 1040.2 L118.4 1040 L120.8 1039.8 L123.2 1039.6 L125.5 1039.3 L127.9 1039.1 L130.3 1038.8 L132.7 1038.5 L135.1 1038.2 L137.5 1037.9 L139.9 1037.5 L142.3 1037.1 L144.7 1036.7 L147.1 1036.3 L149.5 1035.8 L151.9 1035.2 L154.3 1034.7 L156.7 1034.1 L159.1 1033.5 L161.5 1032.8 L163.9 1032 L166.2 1031.3 L168.6 1030.5 L171 1029.6 L173.4 1028.8 L175.8 1027.9 L178.2 1027 L180.6 1026 L183 1024.9 L185.4 1023.8 L187.8 1022.4 L190.2 1021 L192.6 1019.4 L195 1017.7 L197.4 1016 L199.8 1014.3 L202.2 1012.6 L204.5 1010.8 L206.9 1008.9 L209.3 1007 L211.7 1004.9 L214.1 1002.8 L216.5 1000.6 L218.9 998.2 L221.3 995.8 L223.7 993.2 L226.1 990.6 L228.5 987.9 L230.9 985.1 L233.3 982.2 L235.7 979.2 L238.1 976.2 L240.5 973.1 L242.9 970.1 L245.2 967 L247.6 963.9 L250 960.8 L252.4 957.7 L254.8 954.5 L257.2 951.4 L259.6 948.4 L262 945.3 L264.4 942.3 L266.8 939.3 L269.2 936.4 L271.6 933.4 L274 930.5 L276.4 927.5 L278.8 924.6 L281.2 921.7 L283.6 918.9 L285.9 916 L288.3 913.3 L290.7 910.5 L293.1 907.8 L295.5 905.2 L297.9 902.5 L300.3 900 L302.7 897.4 L305.1 894.9 L307.5 892.4 L309.9 890 L312.3 887.6 L314.7 885.2 L317.1 883 L319.5 880.8 L321.9 878.6 L324.2 876.5 L326.6 874.5 L329 872.5 L331.4 870.5 L333.8 868.7 L336.2 866.9 L338.6 865.2 L341 863.5 L343.4 861.9 L345.8 860.3 L348.2 858.7 L350.6 857.2 L353 855.6 L355.4 854.1 L357.8 852.7 L360.2 851.3 L362.6 850.1 L364.9 848.9 L367.3 847.7 L369.7 846.7 L372.1 845.6 L374.5 844.7 L376.9 843.9 L379.3 843.1 L381.7 842.4 L384.1 841.7 L386.5 841.1 L388.9 840.5 L391.3 840.1 L393.7 839.7 L396.1 839.4 L398.5 839.1 L400.9 838.9 L403.2 838.8 L405.6 838.8 L408 838.8 L410.4 838.9 L412.8 839.1 L415.2 839.2 L417.6 839.4 L420 839.6 L422.4 839.9" stroke="#d81a1e" stroke-width="1.85" fill="none"/>
<path d="M65.7 959.3 L66.3 949.8 L66.9 944.8 L67.5 941.4 L68.1 939.1 L68.7 937.4 L69.4 935.9 L70 934.5 L70.6 933.3 L71.2 932.2 L71.8 931.2 L72.4 930.4 L73 929.5 L73.6 928.8 L74.2 928.1 L74.8 927.4 L75.5 926.8 L76.1 926.2 L76.7 925.6 L77.3 925.1 L77.9 924.6 L78.5 924.1 L79.1 923.6 L79.7 923.1 L80.3 922.7 L80.9 922.2 L81.6 921.8 L82.2 921.4 L82.8 921 L83.4 920.6 L84 920.2 L84.6 919.8 L85.2 919.4 L85.8 919 L86.4 918.6 L87 918.3 L87.7 917.9 L88.3 917.6 L88.9 917.2 L89.5 916.9 L90.1 916.6 L93.1 914.9 L96.2 913.4 L99.2 912 L102.3 910.7 L105.3 909.5 L108.4 908.4 L111.4 907.4 L114.5 906.4 L117.5 905.4 L120.6 904.5 L123.6 903.6 L126.7 902.6 L129.7 901.7 L132.8 900.8 L135.8 899.9 L138.9 899.1 L141.9 898.2 L145 897.4 L148 896.5 L151.1 895.7 L154.1 894.9 L157.1 894 L160.2 893.2 L163.2 892.4 L166.3 891.5 L169.3 890.7 L172.4 889.9 L175.4 889.1 L178.5 888.3 L181.5 887.5 L184.6 886.7 L187.6 885.9 L190.7 885.1 L193.7 884.4 L196.8 883.6 L199.8 882.9 L202.9 882.1 L205.9 881.4 L209 880.7 L212 879.9 L215.1 879.2 L218.1 878.4 L221.2 877.7 L224.2 876.9 L227.3 876.2 L230.3 875.5 L233.4 874.7 L236.4 874 L239.5 873.3 L242.5 872.6 L245.6 872 L248.6 871.4 L251.7 870.8 L254.7 870.2 L257.8 869.6 L260.8 869 L263.9 868.4 L266.9 867.9 L270 867.3 L273 866.7 L276.1 866.1 L279.1 865.6 L282.2 865 L285.2 864.4 L288.3 863.8 L291.3 863.2 L294.3 862.7 L297.4 862.1 L300.4 861.6 L303.5 861 L306.5 860.5 L309.6 859.9 L312.6 859.4 L315.7 858.9 L318.7 858.4 L321.8 857.9 L324.8 857.3 L327.9 856.8 L330.9 856.3 L334 855.8 L337 855.2 L340.1 854.7 L343.1 854.2 L346.2 853.6 L349.2 853.1 L352.3 852.5 L355.3 852 L358.4 851.5 L361.4 851 L364.5 850.6 L367.5 850.2 L370.6 849.7 L373.6 849.3 L376.7 848.9 L379.7 848.6 L382.8 848.2 L385.8 847.8 L388.9 847.4 L391.9 847 L395 846.6 L398 846.2 L401.1 845.8 L404.1 845.4 L407.2 845 L410.2 844.6 L413.3 844.2 L416.3 843.8 L419.4 843.3 L422.4 842.9" stroke="#1818e0" stroke-width="1.85" fill="none"/>
<path d="M198 886.9H231" stroke="#111" stroke-width="1.3"/><path d="M240.8 886.9l-11.6 -2.9v5.8z" fill="#111"/>
<path d="M241.9 960.3H212" stroke="#111" stroke-width="1.3"/><path d="M202.2 960.3l11.6 -2.9v5.8z" fill="#111"/>
<path d="M578.2 816.8V1028.2M632.9 816.8V1028.2M687.7 816.8V1028.2M742.5 816.8V1028.2M797.2 816.8V1028.2M523.4 993H852M523.4 957.7H852M523.4 922.5H852M523.4 887.3H852M523.4 852H852" stroke="#b4b4b4" stroke-width="0.9" fill="none"/>
<rect x="523.4" y="816.8" width="328.6" height="211.4" fill="none" stroke="#2a2a2a" stroke-width="1.15"/>
<path d="M523.4 1028.2v3.8M578.2 1028.2v3.8M632.9 1028.2v3.8M687.7 1028.2v3.8M742.5 1028.2v3.8M797.2 1028.2v3.8M852 1028.2v3.8M550.8 1028.2v2M605.5 1028.2v2M660.3 1028.2v2M715.1 1028.2v2M769.8 1028.2v2M824.6 1028.2v2M523.4 1028.2h-4.5M523.4 993h-4.5M523.4 957.7h-4.5M523.4 922.5h-4.5M523.4 887.3h-4.5M523.4 852h-4.5M523.4 816.8h-4.5M523.4 1010.6h-2.4M523.4 975.4h-2.4M523.4 940.1h-2.4M523.4 904.9h-2.4M523.4 869.6h-2.4M523.4 834.4h-2.4" stroke="#2a2a2a" stroke-width="1" fill="none"/>
<text transform="translate(523.4 1041) scale(0.93 1)" font-size="8.6" text-anchor="middle">900</text>
<text transform="translate(578.2 1041) scale(0.93 1)" font-size="8.6" text-anchor="middle">950</text>
<text transform="translate(632.9 1041) scale(0.93 1)" font-size="8.6" text-anchor="middle">1000</text>
<text transform="translate(687.7 1041) scale(0.93 1)" font-size="8.6" text-anchor="middle">1050</text>
<text transform="translate(742.5 1041) scale(0.93 1)" font-size="8.6" text-anchor="middle">1100</text>
<text transform="translate(797.2 1041) scale(0.93 1)" font-size="8.6" text-anchor="middle">1150</text>
<text transform="translate(852 1041) scale(0.93 1)" font-size="8.6" text-anchor="middle">1200</text>
<text transform="translate(516.4 1030) scale(0.93 1)" font-size="8.6" text-anchor="end">-50</text>
<text transform="translate(516.4 994.8) scale(0.93 1)" font-size="8.6" text-anchor="end">-40</text>
<text transform="translate(516.4 959.5) scale(0.93 1)" font-size="8.6" text-anchor="end">-30</text>
<text transform="translate(516.4 924.3) scale(0.93 1)" font-size="8.6" text-anchor="end">-20</text>
<text transform="translate(516.4 889.1) scale(0.93 1)" font-size="8.6" text-anchor="end">-10</text>
<text transform="translate(516.4 853.8) scale(0.93 1)" font-size="8.6" text-anchor="end">0</text>
<text transform="translate(516.4 818.6) scale(0.93 1)" font-size="8.6" text-anchor="end">10</text>
<text transform="translate(687.4 1054.8) scale(1.132 1)" font-size="9.0" text-anchor="middle">Wavelength (nm)</text>
<text transform="translate(496.8 916) rotate(-90) scale(1.019 1.15)" font-size="9.05" text-anchor="middle">ASE power density (dBm/nm)</text>
<clipPath id="c6"><rect x="523.4" y="816.8" width="328.6" height="211.4"/></clipPath>
<path clip-path="url(#c6)" d="M523.4 1019.1 L524.2 1032 L525 1029 L525.9 1026.7 L526.7 1033.8 L527.5 1029 L528.3 1029 L529.2 1039.4 L530 1022.8 L530.8 1025.2 L531.6 1032.5 L532.4 1029.7 L533.3 1025.5 L534.1 1030 L534.9 1029.8 L535.7 1037 L536.5 1024.9 L537.4 1027.4 L538.2 1026.4 L539 1037.1 L539.8 1018 L540.7 1026.9 L541.5 1030 L542.3 1015.4 L543.1 1027.7 L543.9 1036 L544.8 1029.6 L545.6 1040.7 L546.4 1020.5 L547.2 1029.1 L548 1030.8 L548.9 1019.6 L549.7 1035.6 L550.5 1021.3 L551.3 1034.5 L552.2 1023.9 L553 1025.5 L553.8 1010 L554.6 1008 L555.4 1018.9 L556.3 1012.4 L557.1 1017.3 L557.9 1013.3 L558.7 1019.5 L559.5 1023.7 L560.4 1023.7 L561.2 1013.5 L562 1005.1 L562.8 1013.6 L563.7 1016.8 L564.5 1006.2 L565.3 1013.1 L566.1 1013.4 L566.9 1012.5 L567.8 1013.7 L568.6 1014.1 L569.4 1018.2 L570.2 1010.2 L571 1012.2 L571.9 1006.9 L572.7 1012.6 L573.5 1018 L574.3 1010.8 L575.2 1003.8 L576 1011 L576.8 1012.4 L577.6 1013 L578.4 1012 L579.3 1008.8 L580.1 1011 L580.9 1002.2 L581.7 1006.9 L582.5 1005.2 L583.4 1001.1 L584.2 1000.5 L585 1004.1 L585.8 1002.2 L586.7 1000.8 L587.5 1002.1 L588.3 1004.2 L589.1 999.4 L589.9 998.4 L590.8 998.5 L591.6 999.8 L592.4 998.1 L593.2 998 L594 997 L594.9 994.2 L595.7 993.4 L596.5 993.9 L597.3 993.6 L598.2 992.9 L599 993.2 L599.8 992.7 L600.6 992.8 L601.4 991.6 L602.3 988.7 L603.1 989.6 L603.9 990.2 L604.7 989.8 L605.5 989.5 L606.4 987.8 L607.2 987.3 L608 988.1 L608.8 986.1 L609.7 986.3 L610.5 984.3 L611.3 984.5 L612.1 982.9 L612.9 983.6 L613.8 982.7 L614.6 981.6 L615.4 980.4 L616.2 979.8 L617.1 979.6 L617.9 978 L618.7 977 L619.5 976 L620.3 974.9 L621.2 973.1 L622 972.3 L622.8 971.1 L623.6 969.4 L624.4 968 L625.3 966.3 L626.1 964.3 L626.9 962.5 L627.7 960.5 L628.6 958.5 L629.4 956.7 L630.2 955.2 L631 953.4 L631.8 951.7 L632.7 949.8 L633.5 948.4 L634.3 946.9 L635.1 944.9 L635.9 943.6 L636.8 942.3 L637.6 940.4 L638.4 939.2 L639.2 937.6 L640.1 936.6 L640.9 935.5 L641.7 934.3 L642.5 933.1 L643.3 932.1 L644.2 931.3 L645 930.3 L645.8 929.7 L646.6 928.6 L647.4 928.2 L648.3 927.2 L649.1 926.3 L649.9 925.6 L650.7 924.8 L651.6 925 L652.4 924 L653.2 923.4 L654 923 L654.8 923 L655.7 922.3 L656.5 921.6 L657.3 921.9 L658.1 921.2 L658.9 920.7 L659.8 920.9 L660.6 920.4 L661.4 920.5 L662.2 920.3 L663.1 920.2 L663.9 919.8 L664.7 919.7 L665.5 919.4 L666.3 919.6 L667.2 919.3 L668 919 L668.8 919 L669.6 919.3 L670.4 918.9 L671.3 919.1 L672.1 918.9 L672.9 918.9 L673.7 918.8 L674.6 919 L675.4 919.5 L676.2 919.5 L677 919.1 L677.8 919.4 L678.7 919.2 L679.5 919.5 L680.3 919.8 L681.1 919.5 L681.9 920 L682.8 920.4 L683.6 919.7 L684.4 920.6 L685.2 920.2 L686.1 920.3 L686.9 920.6 L687.7 921.1 L688.5 920.7 L689.3 921.3 L690.2 921.4 L691 921.4 L691.8 921.3 L692.6 921.6 L693.5 921.7 L694.3 922.1 L695.1 922.3 L695.9 922.7 L696.7 922.7 L697.6 922.7 L698.4 923.1 L699.2 923.1 L700 923.5 L700.8 923.7 L701.7 923.7 L702.5 924 L703.3 924 L704.1 924.2 L705 924.1 L705.8 924.7 L706.6 924.9 L707.4 925.2 L708.2 925.2 L709.1 925.2 L709.9 925.8 L710.7 925.8 L711.5 925.9 L712.3 926.3 L713.2 926.7 L714 926.6 L714.8 927.1 L715.6 927.4 L716.5 927.6 L717.3 928 L718.1 928.8 L718.9 929.4 L719.7 929.7 L720.6 930.3 L721.4 931.3 L722.2 931.2 L723 932.1 L723.8 932.5 L724.7 933.5 L725.5 933.6 L726.3 934.6 L727.1 935.1 L728 935.9 L728.8 936.3 L729.6 936.8 L730.4 937.4 L731.2 937.8 L732.1 938.5 L732.9 938.9 L733.7 939.8 L734.5 940.5 L735.3 940.9 L736.2 941.4 L737 941.9 L737.8 942.6 L738.6 943.7 L739.5 943.9 L740.3 944.4 L741.1 945.3 L741.9 946.1 L742.7 946.6 L743.6 947.5 L744.4 948 L745.2 948.9 L746 949.4 L746.8 950.4 L747.7 951.4 L748.5 952 L749.3 952.7 L750.1 953.9 L751 954.7 L751.8 955.9 L752.6 956 L753.4 957.2 L754.2 958.3 L755.1 959 L755.9 959.5 L756.7 960.1 L757.5 961 L758.3 961.6 L759.2 962.6 L760 963.3 L760.8 963.5 L761.6 964.3 L762.5 965 L763.3 965.4 L764.1 966.4 L764.9 966.9 L765.7 967.2 L766.6 967.7 L767.4 968.6 L768.2 968.9 L769 970 L769.8 970.4 L770.7 971.1 L771.5 971.9 L772.3 972.2 L773.1 972.6 L774 973.5 L774.8 974.1 L775.6 974.4 L776.4 975.6 L777.2 976.3 L778.1 976.8 L778.9 977.6 L779.7 977.7 L780.5 978.6 L781.4 979.5 L782.2 980.1 L783 980.1 L783.8 981.5 L784.6 982.2 L785.5 982.7 L786.3 983.3 L787.1 984.1 L787.9 985 L788.7 985.8 L789.6 986.1 L790.4 987 L791.2 988 L792 988.1 L792.9 988.9 L793.7 989.9 L794.5 990.6 L795.3 991.2 L796.1 992.1 L797 993 L797.8 993.4 L798.6 994.5 L799.4 994.9 L800.2 996 L801.1 996.5 L801.9 997.3 L802.7 997.7 L803.5 999.1 L804.4 999.9 L805.2 1000.5 L806 1001.4 L806.8 1002.1 L807.6 1002.7 L808.5 1003.4 L809.3 1004 L810.1 1005.3 L810.9 1005.4 L811.7 1006.3 L812.6 1007.5 L813.4 1008.7 L814.2 1009 L815 1009.7 L815.9 1010.9 L816.7 1011.2 L817.5 1012 L818.3 1012.8 L819.1 1013.2 L820 1013.9 L820.8 1014.9 L821.6 1015.5 L822.4 1016.4 L823.2 1017.2 L824.1 1017.8 L824.9 1018.5 L825.7 1019.5 L826.5 1020.7 L827.4 1020.9 L828.2 1022.2 L829 1022.6 L829.8 1023.1 L830.6 1024.3 L831.5 1025.4 L832.3 1026.3 L833.1 1026.6 L833.9 1027.7 L834.7 1028.4 L835.6 1029.2 L836.4 1030.3 L837.2 1031.2 L838 1032.2 L838.9 1033.5 L839.7 1034.1 L840.5 1034.7" stroke="#000" stroke-width="1.8" fill="none" stroke-linejoin="round"/>
<path clip-path="url(#c6)" d="M523.4 1015.2 L524.2 1013.6 L525 1014.4 L525.9 1013.5 L526.7 1011.9 L527.5 1015 L528.3 1013.4 L529.2 1015.8 L530 1010.2 L530.8 1011.7 L531.6 1010.5 L532.4 1008 L533.3 1008.6 L534.1 1010.6 L534.9 1008.6 L535.7 1012.6 L536.5 1008.6 L537.4 1008.9 L538.2 1012 L539 1005.8 L539.8 1009.5 L540.7 1006.5 L541.5 1008.2 L542.3 1005.2 L543.1 1004.2 L543.9 1008 L544.8 1008.9 L545.6 1006 L546.4 1003.8 L547.2 1005.7 L548 1005.8 L548.9 1003.4 L549.7 1009.1 L550.5 1004.9 L551.3 1005.8 L552.2 1002.4 L553 1003.9 L553.8 1004.2 L554.6 1002.5 L555.4 1004.1 L556.3 1001.2 L557.1 1002 L557.9 1001.1 L558.7 1001.3 L559.5 998.2 L560.4 999.5 L561.2 998.1 L562 997.9 L562.8 999.5 L563.7 997.1 L564.5 997.1 L565.3 996.8 L566.1 997.5 L566.9 997.2 L567.8 995.2 L568.6 993 L569.4 996.8 L570.2 994.8 L571 995.7 L571.9 994 L572.7 994.2 L573.5 993.2 L574.3 997.5 L575.2 994.6 L576 994.7 L576.8 993.4 L577.6 993.7 L578.4 993.1 L579.3 991.3 L580.1 989.6 L580.9 993.6 L581.7 990.6 L582.5 989.4 L583.4 989 L584.2 988.6 L585 988.7 L585.8 987.6 L586.7 985.6 L587.5 984.7 L588.3 984.6 L589.1 984.5 L589.9 983.1 L590.8 982.4 L591.6 981.1 L592.4 980.4 L593.2 979.7 L594 978.2 L594.9 977.5 L595.7 975.1 L596.5 973.2 L597.3 972.1 L598.2 969.3 L599 967.5 L599.8 964.5 L600.6 962.2 L601.4 960.1 L602.3 957.1 L603.1 954.8 L603.9 952.1 L604.7 949.3 L605.5 946.5 L606.4 943.8 L607.2 940.9 L608 938.2 L608.8 935 L609.7 932.1 L610.5 929.5 L611.3 926.9 L612.1 923.8 L612.9 921.2 L613.8 919.1 L614.6 917.1 L615.4 914.7 L616.2 912.5 L617.1 911.1 L617.9 908.8 L618.7 907.1 L619.5 905.4 L620.3 903.5 L621.2 902.2 L622 900.4 L622.8 898.8 L623.6 897.6 L624.4 896.5 L625.3 895.4 L626.1 894 L626.9 892.8 L627.7 891 L628.6 890.3 L629.4 889.4 L630.2 888.5 L631 887.8 L631.8 887 L632.7 886.8 L633.5 885.9 L634.3 885.9 L635.1 885.6 L635.9 885 L636.8 884.5 L637.6 884.3 L638.4 884.4 L639.2 884 L640.1 883.9 L640.9 883.7 L641.7 883.7 L642.5 883.9 L643.3 884 L644.2 883.9 L645 884.3 L645.8 884 L646.6 884.5 L647.4 885 L648.3 885.2 L649.1 885.5 L649.9 885.8 L650.7 886 L651.6 886.8 L652.4 887.3 L653.2 887.3 L654 887.8 L654.8 888.2 L655.7 888.6 L656.5 889.2 L657.3 889.7 L658.1 890.6 L658.9 891.1 L659.8 891.9 L660.6 892.7 L661.4 893.1 L662.2 893.8 L663.1 895 L663.9 895.5 L664.7 895.9 L665.5 896.4 L666.3 897.3 L667.2 897.7 L668 898.5 L668.8 898.3 L669.6 899.2 L670.4 899.6 L671.3 900.1 L672.1 900.6 L672.9 901.1 L673.7 901.8 L674.6 902.1 L675.4 902.7 L676.2 903 L677 903.9 L677.8 904.5 L678.7 904.8 L679.5 905.3 L680.3 906.1 L681.1 906.8 L681.9 907.3 L682.8 908 L683.6 908.2 L684.4 908.9 L685.2 909.4 L686.1 910.1 L686.9 910.8 L687.7 911 L688.5 911.4 L689.3 912.1 L690.2 912.7 L691 912.9 L691.8 913.6 L692.6 913.9 L693.5 914.6 L694.3 915 L695.1 915.2 L695.9 915.6 L696.7 915.7 L697.6 916.5 L698.4 916.8 L699.2 917.4 L700 917.9 L700.8 918.2 L701.7 918.2 L702.5 918.8 L703.3 918.7 L704.1 918.9 L705 919.5 L705.8 919.4 L706.6 920 L707.4 920.1 L708.2 920.6 L709.1 920.7 L709.9 921.3 L710.7 921.4 L711.5 921.9 L712.3 922.2 L713.2 922.4 L714 922.9 L714.8 923.3 L715.6 923.6 L716.5 924 L717.3 924.9 L718.1 925.1 L718.9 925.6 L719.7 926.3 L720.6 926.7 L721.4 927.6 L722.2 927.7 L723 928.6 L723.8 929.1 L724.7 929.5 L725.5 930.4 L726.3 930.8 L727.1 931.7 L728 932.2 L728.8 933 L729.6 933.4 L730.4 933.8 L731.2 934.5 L732.1 935 L732.9 936 L733.7 936.6 L734.5 937.2 L735.3 937.7 L736.2 938.4 L737 939.1 L737.8 939.6 L738.6 940.5 L739.5 941.1 L740.3 941.6 L741.1 942.6 L741.9 943.1 L742.7 943.6 L743.6 944.6 L744.4 945.2 L745.2 946.2 L746 946.5 L746.8 948 L747.7 948.6 L748.5 949.4 L749.3 949.7 L750.1 950.7 L751 951.6 L751.8 952.6 L752.6 953.1 L753.4 953.9 L754.2 954.8 L755.1 955.7 L755.9 956.4 L756.7 956.9 L757.5 957.6 L758.3 958.3 L759.2 959 L760 960 L760.8 960.3 L761.6 961.2 L762.5 961.6 L763.3 962.1 L764.1 963 L764.9 963.6 L765.7 963.9 L766.6 964.6 L767.4 965.3 L768.2 966.3 L769 966.4 L769.8 966.9 L770.7 967.4 L771.5 968.3 L772.3 968.9 L773.1 969.4 L774 969.8 L774.8 970.8 L775.6 971.2 L776.4 972 L777.2 972.4 L778.1 973.4 L778.9 973.7 L779.7 974.4 L780.5 975 L781.4 975.5 L782.2 976.1 L783 977.2 L783.8 977.4 L784.6 978.1 L785.5 978.9 L786.3 979.2 L787.1 980.1 L787.9 980.6 L788.7 981.6 L789.6 982.3 L790.4 982.6 L791.2 983.1 L792 984 L792.9 984.6 L793.7 985.5 L794.5 986.3 L795.3 986.8 L796.1 987.2 L797 988.5 L797.8 988.9 L798.6 989.9 L799.4 990.2 L800.2 990.8 L801.1 991.9 L801.9 992.5 L802.7 992.9 L803.5 993.9 L804.4 994.8 L805.2 995.5 L806 996.4 L806.8 996.7 L807.6 997.7 L808.5 998.1 L809.3 998.8 L810.1 999.8 L810.9 1000.5 L811.7 1001 L812.6 1001.9 L813.4 1002.5 L814.2 1003.6 L815 1003.9 L815.9 1004.9 L816.7 1005.8 L817.5 1006.2 L818.3 1006.8 L819.1 1007.2 L820 1008.3 L820.8 1009.2 L821.6 1009.3 L822.4 1010.3 L823.2 1011.1 L824.1 1011.9 L824.9 1012.6 L825.7 1012.8 L826.5 1013.8 L827.4 1014.6 L828.2 1015.2 L829 1015.6 L829.8 1016.6 L830.6 1017.1 L831.5 1017.8 L832.3 1018.5 L833.1 1019.3 L833.9 1019.7 L834.7 1020.2 L835.6 1021.1 L836.4 1021.9 L837.2 1022.6 L838 1023 L838.9 1023.7 L839.7 1024.3 L840.5 1024.9 L841.3 1025.8 L842.1 1026.1 L843 1026.8 L843.8 1027.4 L844.6 1028 L845.4 1028.5 L846.2 1029.3 L847.1 1030 L847.9 1030.3 L848.7 1031.2 L849.5 1031.8 L850.4 1032.6 L851.2 1032.9 L852 1033.7" stroke="#d81a1e" stroke-width="1.8" fill="none" stroke-linejoin="round"/>
<path clip-path="url(#c6)" d="M523.4 995.9 L524.2 994.8 L525 995 L525.9 993.9 L526.7 994.4 L527.5 994.8 L528.3 994.5 L529.2 994.5 L530 993.2 L530.8 993.6 L531.6 993.7 L532.4 992.5 L533.3 992.9 L534.1 993.2 L534.9 993.8 L535.7 992 L536.5 991.9 L537.4 991.9 L538.2 992.1 L539 992.2 L539.8 991.5 L540.7 990.9 L541.5 991 L542.3 990.8 L543.1 990.8 L543.9 989.9 L544.8 989.8 L545.6 990.4 L546.4 989 L547.2 988.7 L548 988.5 L548.9 989 L549.7 988.8 L550.5 989.3 L551.3 987.7 L552.2 989.6 L553 988.1 L553.8 987.8 L554.6 986.8 L555.4 987.2 L556.3 987.6 L557.1 987.7 L557.9 987 L558.7 986.2 L559.5 986 L560.4 986 L561.2 986.1 L562 985.5 L562.8 984.5 L563.7 985.6 L564.5 984.6 L565.3 983.4 L566.1 983.8 L566.9 984.2 L567.8 983.2 L568.6 983.8 L569.4 983.1 L570.2 982 L571 981.6 L571.9 983.2 L572.7 981.7 L573.5 980.8 L574.3 981.7 L575.2 981 L576 980.1 L576.8 980.5 L577.6 979.7 L578.4 979.4 L579.3 979.5 L580.1 978 L580.9 977.3 L581.7 976.1 L582.5 974.7 L583.4 974 L584.2 973.1 L585 971.7 L585.8 970.4 L586.7 968.7 L587.5 967.3 L588.3 965.2 L589.1 963 L589.9 960.1 L590.8 957.7 L591.6 955.1 L592.4 952.4 L593.2 949.6 L594 946.9 L594.9 944.2 L595.7 941.5 L596.5 938.4 L597.3 935.6 L598.2 932.7 L599 929.6 L599.8 926.3 L600.6 923.4 L601.4 920.5 L602.3 917.6 L603.1 914.7 L603.9 912.5 L604.7 909.8 L605.5 907.4 L606.4 904.5 L607.2 902.1 L608 899.7 L608.8 897.3 L609.7 894.8 L610.5 892.8 L611.3 890.7 L612.1 888.5 L612.9 886.9 L613.8 885.1 L614.6 882.8 L615.4 881.4 L616.2 879.8 L617.1 878.2 L617.9 876.5 L618.7 875 L619.5 873.6 L620.3 872.4 L621.2 871.4 L622 870.5 L622.8 869.2 L623.6 868 L624.4 867.1 L625.3 866.4 L626.1 865.4 L626.9 864.8 L627.7 864.1 L628.6 863.7 L629.4 863.1 L630.2 862.7 L631 862.4 L631.8 862 L632.7 861.5 L633.5 861.3 L634.3 861.3 L635.1 861.2 L635.9 861 L636.8 861 L637.6 860.8 L638.4 860.9 L639.2 861 L640.1 861.3 L640.9 861.5 L641.7 861.9 L642.5 862.3 L643.3 862.4 L644.2 862.9 L645 863.6 L645.8 864 L646.6 864.4 L647.4 864.8 L648.3 865.2 L649.1 865.8 L649.9 866.5 L650.7 867.2 L651.6 867.9 L652.4 868.7 L653.2 869.5 L654 870.3 L654.8 871.3 L655.7 871.8 L656.5 872.3 L657.3 873.5 L658.1 874.3 L658.9 875 L659.8 875.9 L660.6 876.9 L661.4 877.5 L662.2 878.5 L663.1 879.4 L663.9 880.4 L664.7 881.1 L665.5 882 L666.3 882.8 L667.2 883.6 L668 884.4 L668.8 885.4 L669.6 886.2 L670.4 887.3 L671.3 887.8 L672.1 888.7 L672.9 889.6 L673.7 890.5 L674.6 891.2 L675.4 892.2 L676.2 892.7 L677 893.5 L677.8 894.4 L678.7 895 L679.5 895.6 L680.3 896.3 L681.1 897 L681.9 897.8 L682.8 898.6 L683.6 899.3 L684.4 899.8 L685.2 900.2 L686.1 901 L686.9 901.6 L687.7 902.2 L688.5 903.3 L689.3 903.7 L690.2 904.3 L691 904.7 L691.8 905.2 L692.6 906.1 L693.5 906.6 L694.3 907.1 L695.1 907.8 L695.9 908.4 L696.7 908.9 L697.6 909.1 L698.4 909.9 L699.2 910 L700 910.6 L700.8 910.9 L701.7 911.1 L702.5 911.8 L703.3 912.1 L704.1 912.3 L705 912.8 L705.8 913 L706.6 913.2 L707.4 913.5 L708.2 914 L709.1 914.2 L709.9 914.3 L710.7 914.6 L711.5 915.4 L712.3 915.2 L713.2 915.7 L714 916.3 L714.8 916.8 L715.6 917 L716.5 917.6 L717.3 918 L718.1 918.4 L718.9 919.1 L719.7 919.5 L720.6 920 L721.4 920.5 L722.2 921 L723 921.6 L723.8 922.4 L724.7 923.1 L725.5 923.3 L726.3 924.1 L727.1 924.8 L728 925.6 L728.8 925.9 L729.6 926.8 L730.4 927.4 L731.2 928.1 L732.1 928.7 L732.9 929.3 L733.7 930.2 L734.5 930.8 L735.3 931.3 L736.2 932.2 L737 932.9 L737.8 933.5 L738.6 934.3 L739.5 934.7 L740.3 935.6 L741.1 936 L741.9 936.7 L742.7 937.7 L743.6 938.2 L744.4 939 L745.2 939.8 L746 940.4 L746.8 941.1 L747.7 941.6 L748.5 942.3 L749.3 943.3 L750.1 943.9 L751 944.5 L751.8 945.1 L752.6 946.3 L753.4 946.5 L754.2 947.4 L755.1 947.9 L755.9 948.8 L756.7 949.6 L757.5 950.1 L758.3 950.6 L759.2 951.4 L760 952.4 L760.8 952.6 L761.6 953.5 L762.5 954.1 L763.3 954.7 L764.1 955.4 L764.9 955.9 L765.7 956.5 L766.6 957 L767.4 957.5 L768.2 958.1 L769 958.9 L769.8 959.3 L770.7 959.7 L771.5 960.3 L772.3 961 L773.1 961.5 L774 962.1 L774.8 962.6 L775.6 963.2 L776.4 964.1 L777.2 964.7 L778.1 965.1 L778.9 965.8 L779.7 966.4 L780.5 967.6 L781.4 967.9 L782.2 969 L783 969.1 L783.8 969.8 L784.6 970.5 L785.5 971.2 L786.3 971.6 L787.1 972.5 L787.9 973 L788.7 973.7 L789.6 974.4 L790.4 975 L791.2 975.8 L792 976.6 L792.9 977 L793.7 977.7 L794.5 978.4 L795.3 979 L796.1 979.6 L797 980.6 L797.8 981.1 L798.6 981.8 L799.4 982.5 L800.2 983 L801.1 983.9 L801.9 984.5 L802.7 985.1 L803.5 985.7 L804.4 986.4 L805.2 986.8 L806 987.9 L806.8 988.4 L807.6 989.3 L808.5 989.7 L809.3 990.3 L810.1 991 L810.9 991.9 L811.7 992.5 L812.6 993 L813.4 993.8 L814.2 994.3 L815 995.3 L815.9 995.6 L816.7 996.3 L817.5 997 L818.3 997.9 L819.1 998.4 L820 999.1 L820.8 999.7 L821.6 1000.4 L822.4 1001.1 L823.2 1001.7 L824.1 1002.2 L824.9 1003.3 L825.7 1003.8 L826.5 1004.5 L827.4 1005 L828.2 1005.8 L829 1006.1 L829.8 1006.8 L830.6 1007.5 L831.5 1008.2 L832.3 1008.7 L833.1 1009.3 L833.9 1009.9 L834.7 1010.6 L835.6 1011 L836.4 1011.9 L837.2 1012.2 L838 1013.4 L838.9 1013.6 L839.7 1014.3 L840.5 1014.6 L841.3 1015.5 L842.1 1015.6 L843 1016.6 L843.8 1016.7 L844.6 1017.5 L845.4 1018.1 L846.2 1018.6 L847.1 1019 L847.9 1019.7 L848.7 1020.7 L849.5 1020.8 L850.4 1021.4 L851.2 1022.2 L852 1022.5" stroke="#1818e0" stroke-width="1.8" fill="none" stroke-linejoin="round"/>
<path clip-path="url(#c6)" d="M523.4 986.5 L524.2 985.8 L525 985.7 L525.9 986 L526.7 985.3 L527.5 986 L528.3 985.3 L529.2 985.5 L530 985.3 L530.8 984.3 L531.6 984.9 L532.4 985.3 L533.3 984.8 L534.1 985 L534.9 984.5 L535.7 984.3 L536.5 984.2 L537.4 984.1 L538.2 984.2 L539 983.7 L539.8 983.3 L540.7 983.8 L541.5 983.5 L542.3 983.3 L543.1 982.7 L543.9 982.6 L544.8 983.1 L545.6 982.7 L546.4 983.1 L547.2 982.8 L548 982.2 L548.9 981.8 L549.7 981.6 L550.5 981.9 L551.3 982.1 L552.2 981.3 L553 981.3 L553.8 980.9 L554.6 980.8 L555.4 980.5 L556.3 980.3 L557.1 980 L557.9 980.3 L558.7 979.6 L559.5 979.9 L560.4 979.5 L561.2 978.7 L562 978.9 L562.8 979.2 L563.7 978.1 L564.5 978 L565.3 977.7 L566.1 977.8 L566.9 977.4 L567.8 977.4 L568.6 977.2 L569.4 976.3 L570.2 976.6 L571 976.3 L571.9 976 L572.7 975 L573.5 975 L574.3 974.9 L575.2 974.4 L576 973.8 L576.8 973.3 L577.6 973.3 L578.4 972.1 L579.3 971.6 L580.1 970.7 L580.9 969.6 L581.7 968.1 L582.5 966.5 L583.4 965.3 L584.2 963.5 L585 961.7 L585.8 959.1 L586.7 956.4 L587.5 953.8 L588.3 950.7 L589.1 947.4 L589.9 944.5 L590.8 941.2 L591.6 938 L592.4 935.4 L593.2 932.3 L594 929.4 L594.9 926.3 L595.7 923.5 L596.5 920.3 L597.3 917.4 L598.2 914.3 L599 911.4 L599.8 908.7 L600.6 905.9 L601.4 903.5 L602.3 900.8 L603.1 898.2 L603.9 895.6 L604.7 892.9 L605.5 890.8 L606.4 888.2 L607.2 886 L608 883.8 L608.8 881.3 L609.7 879.4 L610.5 877.4 L611.3 875.5 L612.1 873.9 L612.9 872.2 L613.8 870 L614.6 868.6 L615.4 867.1 L616.2 865.4 L617.1 864 L617.9 862.8 L618.7 861.6 L619.5 860.4 L620.3 859.3 L621.2 858.2 L622 857.3 L622.8 856.3 L623.6 855.3 L624.4 854.5 L625.3 853.7 L626.1 853.2 L626.9 852.7 L627.7 852.4 L628.6 851.7 L629.4 851.7 L630.2 851.2 L631 851 L631.8 850.6 L632.7 850.4 L633.5 850.4 L634.3 850.1 L635.1 850.2 L635.9 849.8 L636.8 850 L637.6 850.2 L638.4 850.3 L639.2 850.3 L640.1 850.6 L640.9 850.9 L641.7 851.5 L642.5 851.9 L643.3 852.1 L644.2 852.8 L645 853.2 L645.8 853.7 L646.6 854.2 L647.4 854.6 L648.3 855.3 L649.1 856.1 L649.9 856.9 L650.7 857.6 L651.6 858.4 L652.4 859.5 L653.2 860.4 L654 861.3 L654.8 861.9 L655.7 862.9 L656.5 863.9 L657.3 864.6 L658.1 865.5 L658.9 866.3 L659.8 867.3 L660.6 868.4 L661.4 869.3 L662.2 870.2 L663.1 871.3 L663.9 872.1 L664.7 873 L665.5 873.9 L666.3 875 L667.2 875.9 L668 876.6 L668.8 877.7 L669.6 878.5 L670.4 879.4 L671.3 880.4 L672.1 881.4 L672.9 882.2 L673.7 883.2 L674.6 884.1 L675.4 885 L676.2 885.9 L677 886.8 L677.8 887.7 L678.7 888.6 L679.5 889.4 L680.3 890.4 L681.1 891.4 L681.9 892.1 L682.8 892.9 L683.6 893.8 L684.4 894.8 L685.2 895.4 L686.1 896.2 L686.9 897 L687.7 897.8 L688.5 898.7 L689.3 899.4 L690.2 900.3 L691 900.7 L691.8 901.8 L692.6 902.5 L693.5 903.4 L694.3 904.1 L695.1 904.8 L695.9 905.3 L696.7 906 L697.6 906.6 L698.4 907.4 L699.2 907.6 L700 908.3 L700.8 908.4 L701.7 908.8 L702.5 909.3 L703.3 909.7 L704.1 910.3 L705 910.2 L705.8 910.8 L706.6 911 L707.4 911.5 L708.2 911.7 L709.1 912.2 L709.9 912.4 L710.7 912.7 L711.5 913 L712.3 913.2 L713.2 913.7 L714 914.1 L714.8 914.5 L715.6 914.7 L716.5 915.4 L717.3 915.6 L718.1 916.4 L718.9 916.7 L719.7 917 L720.6 917.5 L721.4 917.6 L722.2 918.1 L723 919 L723.8 919.5 L724.7 919.9 L725.5 920.2 L726.3 920.7 L727.1 921.3 L728 922.1 L728.8 922.5 L729.6 923.3 L730.4 923.8 L731.2 924.1 L732.1 924.7 L732.9 925.6 L733.7 926 L734.5 926.5 L735.3 927.3 L736.2 928 L737 928.6 L737.8 929.3 L738.6 930 L739.5 930.7 L740.3 931.4 L741.1 932 L741.9 932.7 L742.7 933.1 L743.6 933.9 L744.4 934.5 L745.2 935.1 L746 935.8 L746.8 936.5 L747.7 937.3 L748.5 938 L749.3 938.5 L750.1 939.5 L751 940.2 L751.8 940.9 L752.6 941.5 L753.4 942.1 L754.2 942.7 L755.1 943.6 L755.9 944.4 L756.7 944.8 L757.5 945.4 L758.3 946.2 L759.2 946.9 L760 947.4 L760.8 948 L761.6 948.8 L762.5 949.5 L763.3 950.1 L764.1 950.7 L764.9 951.5 L765.7 951.8 L766.6 952.6 L767.4 953.1 L768.2 953.7 L769 954.4 L769.8 954.8 L770.7 955.6 L771.5 956.2 L772.3 956.8 L773.1 957.3 L774 958 L774.8 958.7 L775.6 959.2 L776.4 959.8 L777.2 960.2 L778.1 961.1 L778.9 961.7 L779.7 962.4 L780.5 963.1 L781.4 963.5 L782.2 964.1 L783 964.9 L783.8 965.5 L784.6 966.1 L785.5 966.5 L786.3 967.3 L787.1 967.8 L787.9 968.5 L788.7 969.1 L789.6 969.7 L790.4 970.5 L791.2 970.9 L792 971.4 L792.9 972.3 L793.7 972.7 L794.5 973.4 L795.3 974 L796.1 974.6 L797 975.4 L797.8 975.7 L798.6 976.2 L799.4 977.1 L800.2 977.6 L801.1 978 L801.9 978.7 L802.7 979.4 L803.5 980 L804.4 980.5 L805.2 981.1 L806 981.6 L806.8 982.4 L807.6 982.8 L808.5 983.5 L809.3 984 L810.1 984.8 L810.9 985.4 L811.7 986 L812.6 986.6 L813.4 987.2 L814.2 987.7 L815 988.3 L815.9 989 L816.7 989.7 L817.5 990.4 L818.3 990.9 L819.1 991.6 L820 992.4 L820.8 993 L821.6 993.8 L822.4 994.4 L823.2 995 L824.1 996 L824.9 996.4 L825.7 997.1 L826.5 998 L827.4 998.4 L828.2 999 L829 999.6 L829.8 1000.4 L830.6 1000.7 L831.5 1001.5 L832.3 1002.1 L833.1 1002.5 L833.9 1003.1 L834.7 1003.7 L835.6 1004.2 L836.4 1005 L837.2 1005.2 L838 1005.9 L838.9 1006.4 L839.7 1006.8 L840.5 1007.5 L841.3 1007.9 L842.1 1008.3 L843 1008.9 L843.8 1009.3 L844.6 1010 L845.4 1010.4 L846.2 1010.9 L847.1 1011.2 L847.9 1011.3 L848.7 1012.1 L849.5 1012.5 L850.4 1012.9 L851.2 1013.2 L852 1013.7" stroke="#f018f0" stroke-width="1.8" fill="none" stroke-linejoin="round"/>
<path clip-path="url(#c6)" d="M523.4 981.7 L524.2 980.9 L525 981.3 L525.9 980.9 L526.7 981.8 L527.5 981.6 L528.3 980.8 L529.2 981.5 L530 980.7 L530.8 980.7 L531.6 980.7 L532.4 980.5 L533.3 980.4 L534.1 980.3 L534.9 980.5 L535.7 980.3 L536.5 979.2 L537.4 979.7 L538.2 979.8 L539 979.7 L539.8 980 L540.7 979.6 L541.5 979.6 L542.3 979.1 L543.1 979.6 L543.9 979.9 L544.8 979.2 L545.6 978.7 L546.4 978.1 L547.2 978.4 L548 978.9 L548.9 978.5 L549.7 978.6 L550.5 978.3 L551.3 978.3 L552.2 978.4 L553 977.7 L553.8 977.6 L554.6 977.6 L555.4 977.3 L556.3 976.7 L557.1 977.1 L557.9 977 L558.7 976.5 L559.5 977 L560.4 976.2 L561.2 976.4 L562 976.2 L562.8 975.8 L563.7 975.2 L564.5 975.6 L565.3 975 L566.1 974.9 L566.9 975.1 L567.8 974.3 L568.6 974.4 L569.4 974.3 L570.2 973.9 L571 973.6 L571.9 973 L572.7 973 L573.5 972.2 L574.3 972 L575.2 971.8 L576 971.4 L576.8 970.6 L577.6 970.5 L578.4 969.9 L579.3 968.7 L580.1 967.2 L580.9 965.8 L581.7 964.2 L582.5 962.4 L583.4 960.8 L584.2 958.5 L585 956.4 L585.8 953.5 L586.7 950.8 L587.5 947.8 L588.3 944.6 L589.1 941.4 L589.9 938.1 L590.8 934.9 L591.6 931.9 L592.4 929 L593.2 925.9 L594 922.8 L594.9 919.8 L595.7 916.9 L596.5 913.8 L597.3 910.9 L598.2 907.9 L599 905.1 L599.8 902.2 L600.6 899.4 L601.4 896.9 L602.3 894.3 L603.1 892 L603.9 889.6 L604.7 887.1 L605.5 884.7 L606.4 882.5 L607.2 880.1 L608 878.2 L608.8 875.9 L609.7 874 L610.5 872.4 L611.3 870.4 L612.1 868.7 L612.9 866.9 L613.8 865.4 L614.6 863.7 L615.4 862.1 L616.2 861 L617.1 859.6 L617.9 858.1 L618.7 857 L619.5 855.8 L620.3 854.8 L621.2 853.9 L622 852.7 L622.8 851.9 L623.6 851 L624.4 850.2 L625.3 849.4 L626.1 849 L626.9 848.5 L627.7 848.3 L628.6 847.5 L629.4 847.6 L630.2 847.3 L631 847.1 L631.8 846.8 L632.7 846.6 L633.5 846.3 L634.3 846.2 L635.1 846.1 L635.9 846.1 L636.8 846.1 L637.6 846 L638.4 846.2 L639.2 846.4 L640.1 846.9 L640.9 846.9 L641.7 847.3 L642.5 847.5 L643.3 848.4 L644.2 848.5 L645 848.9 L645.8 849.4 L646.6 849.9 L647.4 850.4 L648.3 851 L649.1 851.8 L649.9 852.6 L650.7 853.3 L651.6 854.2 L652.4 855 L653.2 855.9 L654 856.8 L654.8 857.3 L655.7 858.4 L656.5 859.1 L657.3 860.1 L658.1 860.8 L658.9 861.8 L659.8 862.6 L660.6 863.6 L661.4 864.6 L662.2 865.3 L663.1 866.1 L663.9 867.2 L664.7 868.1 L665.5 869.1 L666.3 869.9 L667.2 870.8 L668 871.8 L668.8 872.5 L669.6 873.5 L670.4 874.4 L671.3 875.4 L672.1 876.3 L672.9 877.2 L673.7 878.1 L674.6 879 L675.4 880.1 L676.2 881 L677 881.9 L677.8 883 L678.7 883.8 L679.5 884.9 L680.3 886 L681.1 887.1 L681.9 888 L682.8 889.1 L683.6 889.9 L684.4 891.1 L685.2 892.3 L686.1 892.9 L686.9 893.9 L687.7 894.7 L688.5 895.5 L689.3 896.2 L690.2 896.9 L691 897.5 L691.8 898.2 L692.6 899 L693.5 899.7 L694.3 900.2 L695.1 900.7 L695.9 901.2 L696.7 901.7 L697.6 902.6 L698.4 903 L699.2 903.5 L700 904 L700.8 904.4 L701.7 904.9 L702.5 905.3 L703.3 905.8 L704.1 906.1 L705 906.4 L705.8 906.7 L706.6 907.3 L707.4 907.8 L708.2 908.1 L709.1 908.5 L709.9 908.7 L710.7 909.3 L711.5 909.6 L712.3 910.1 L713.2 910.5 L714 910.8 L714.8 911.2 L715.6 911.9 L716.5 912.3 L717.3 913.1 L718.1 913.5 L718.9 914 L719.7 914.5 L720.6 915 L721.4 915.5 L722.2 916.3 L723 916.7 L723.8 917.4 L724.7 917.7 L725.5 918.4 L726.3 919 L727.1 919.6 L728 920.2 L728.8 920.7 L729.6 921.3 L730.4 921.7 L731.2 922.3 L732.1 922.8 L732.9 923.4 L733.7 923.9 L734.5 924.6 L735.3 924.7 L736.2 925.7 L737 926.2 L737.8 926.6 L738.6 927.1 L739.5 927.9 L740.3 928.6 L741.1 929.1 L741.9 929.6 L742.7 930.2 L743.6 930.7 L744.4 931.2 L745.2 931.7 L746 932.5 L746.8 933 L747.7 933.6 L748.5 934.1 L749.3 934.9 L750.1 935.6 L751 936 L751.8 936.5 L752.6 937.4 L753.4 937.7 L754.2 938.4 L755.1 939.2 L755.9 940 L756.7 940.5 L757.5 941.1 L758.3 941.6 L759.2 942.4 L760 942.6 L760.8 943.2 L761.6 944.2 L762.5 944.9 L763.3 945.3 L764.1 945.9 L764.9 946.4 L765.7 947.1 L766.6 947.8 L767.4 948.6 L768.2 949 L769 949.5 L769.8 950.3 L770.7 950.8 L771.5 951.5 L772.3 952.1 L773.1 952.9 L774 953.3 L774.8 954.2 L775.6 954.5 L776.4 955.4 L777.2 955.9 L778.1 956.6 L778.9 957.2 L779.7 957.9 L780.5 958.4 L781.4 959.2 L782.2 960 L783 960.5 L783.8 961.2 L784.6 962 L785.5 962.5 L786.3 963.3 L787.1 963.8 L787.9 964.5 L788.7 965.1 L789.6 965.5 L790.4 966.4 L791.2 967 L792 967.7 L792.9 968.4 L793.7 969.1 L794.5 969.6 L795.3 970.2 L796.1 971.3 L797 971.6 L797.8 972.3 L798.6 972.9 L799.4 973.4 L800.2 974.2 L801.1 974.7 L801.9 975.5 L802.7 976.1 L803.5 976.6 L804.4 977.3 L805.2 977.9 L806 978.6 L806.8 979.2 L807.6 979.6 L808.5 980.3 L809.3 981.1 L810.1 981.7 L810.9 981.9 L811.7 982.8 L812.6 983.5 L813.4 983.9 L814.2 984.7 L815 985.2 L815.9 985.7 L816.7 986.3 L817.5 987 L818.3 987.5 L819.1 988.2 L820 988.8 L820.8 989.4 L821.6 990 L822.4 990.6 L823.2 991.2 L824.1 991.9 L824.9 992.4 L825.7 993 L826.5 993.6 L827.4 994.2 L828.2 994.6 L829 995.3 L829.8 995.7 L830.6 996.3 L831.5 997 L832.3 997.6 L833.1 998.2 L833.9 998.6 L834.7 999.1 L835.6 999.5 L836.4 1000.3 L837.2 1000.6 L838 1001.1 L838.9 1001.5 L839.7 1002.3 L840.5 1002.8 L841.3 1003.5 L842.1 1003.9 L843 1004.4 L843.8 1004.9 L844.6 1005.4 L845.4 1005.9 L846.2 1006.3 L847.1 1006.7 L847.9 1007.1 L848.7 1007.7 L849.5 1008 L850.4 1008.5 L851.2 1009.2 L852 1009.6" stroke="#087808" stroke-width="1.8" fill="none" stroke-linejoin="round"/>
<rect x="787.1" y="816.8" width="64.9" height="56.3" fill="#fff" stroke="#666" stroke-width="1"/>
<path d="M791 823.3H814.8" stroke="#000" stroke-width="1.5"/>
<text x="816.8" y="826.2" font-size="10.1">100mA</text>
<path d="M791 834.6H814.8" stroke="#d81a1e" stroke-width="1.5"/>
<text x="816.8" y="837.5" font-size="10.1">200mA</text>
<path d="M791 845.9H814.8" stroke="#1818e0" stroke-width="1.5"/>
<text x="816.8" y="848.8" font-size="10.1">300mA</text>
<path d="M791 857.1H814.8" stroke="#f018f0" stroke-width="1.5"/>
<text x="816.8" y="860" font-size="10.1">400mA</text>
<path d="M791 868.4H814.8" stroke="#087808" stroke-width="1.5"/>
<text x="816.8" y="871.3" font-size="10.1">500mA</text>
</svg></div></body></html>
